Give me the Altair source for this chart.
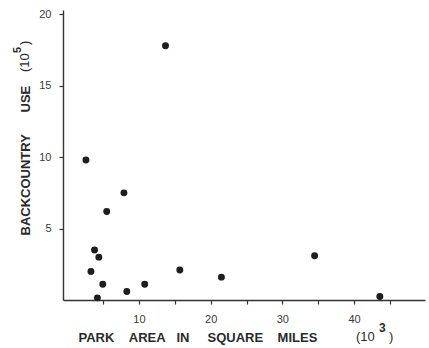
import altair as alt
import pandas as pd

# Park area (thousands of square miles) and backcountry use (hundred-thousands)
area = [13.7, 2.6, 7.9, 5.5, 3.8, 4.4, 3.3, 4.95, 8.3, 10.8, 4.2, 15.7, 21.5, 34.5, 43.6]
use = [17.8, 9.8, 7.5, 6.2, 3.5, 3.0, 2.0, 1.1, 0.6, 1.1, 0.15, 2.1, 1.6, 3.1, 0.25]

x_ticks = [5, 10, 15, 20, 25, 30, 35, 40, 45]
y_ticks = [5, 10, 15, 20]

NB = "\u00a0"
x_words = ["PARK", "AREA", "IN", "SQUARE", "MILES"]
x_gaps = [4, 3, 5, 4]
y_words = ["BACKCOUNTRY", "USE"]
x_unit = ["(10", "3", ")"]
y_unit = ["(10", "5", ")"]

x_title = x_words[0] + "".join(NB * g + w for g, w in zip(x_gaps, x_words[1:]))
y_title = y_words[0] + NB * 6 + y_words[1]

df = pd.DataFrame({"area": area, "use": use})

ink = "#2a2a2a"
font = "Liberation Sans"

points = (
    alt.Chart(df)
    .mark_circle(size=48, opacity=1, color="#1e1e1e")
    .encode(
        x=alt.X(
            "area:Q",
            scale=alt.Scale(domain=[-0.6, 49.9], nice=False, zero=False),
            axis=alt.Axis(
                values=x_ticks,
                labelExpr="datum.value % 10 == 0 ? datum.label : ''",
                title=x_title,
                titleAnchor="start",
                titleAlign="left",
                titleBaseline="alphabetic",
                titleX=15,
                titleY=41,
                titleFont=font,
                titleFontSize=13,
                titleFontWeight="bold",
                titleColor=ink,
                labelFont=font,
                labelFontSize=11,
                labelColor="#3a3a3a",
                labelPadding=9,
                tickSize=4,
                tickWidth=1.2,
                tickColor="#333",
                domainColor="#333",
                domainWidth=1.4,
                grid=False,
            ),
        ),
        y=alt.Y(
            "use:Q",
            scale=alt.Scale(domain=[0, 20.3], nice=False),
            axis=alt.Axis(
                values=y_ticks,
                title=y_title,
                titleAngle=270,
                titleAlign="left",
                titleBaseline="alphabetic",
                titleX=-34,
                titleY=225,
                titleFont=font,
                titleFontSize=13,
                titleFontWeight="bold",
                titleColor=ink,
                labelFont=font,
                labelFontSize=11,
                labelColor="#3a3a3a",
                labelPadding=8,
                tickSize=4,
                tickWidth=1.2,
                tickColor="#333",
                domainColor="#333",
                domainWidth=1.4,
                grid=False,
            ),
        ),
    )
)


def unit_text(label, size, weight, px, py, angle=0):
    return (
        alt.Chart(pd.DataFrame({"label": [label]}))
        .mark_text(
            font=font,
            fontSize=size,
            fontWeight=weight,
            color=ink,
            align="left",
            baseline="alphabetic",
            angle=angle,
        )
        .encode(text="label:N", x=alt.value(px), y=alt.value(py))
    )


# "(10³)" after the x title and "(10⁵)" after the rotated y title
x_unit_layers = [
    unit_text(x_unit[0], 13, "normal", 293, 331),
    unit_text(x_unit[1], 12, "bold", 316, 322),
    unit_text(x_unit[2], 13, "normal", 326, 331),
]
y_unit_layers = [
    unit_text(y_unit[0], 13, "normal", -34, 62, 270),
    unit_text(y_unit[1], 11, "bold", -42, 43, 270),
    unit_text(y_unit[2], 13, "normal", -34, 35, 270),
]

chart = (
    alt.layer(points, *x_unit_layers, *y_unit_layers)
    .properties(
        width=362,
        height=290,
        autosize="none",
        padding={"left": 63, "top": 10, "right": 4, "bottom": 48},
        background="white",
    )
    .configure_view(stroke=None)
)

chart.save("out.html", embed_options={"renderer": "svg", "actions": False})
